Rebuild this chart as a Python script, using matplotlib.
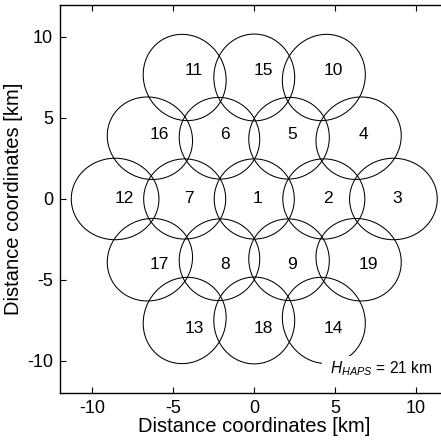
import matplotlib
matplotlib.use('Agg')
import matplotlib.pyplot as plt
import numpy as np
from matplotlib.patches import Ellipse

plt.rcParams['font.family'] = ['Liberation Sans', 'DejaVu Sans']
plt.rcParams['mathtext.fontset'] = 'custom'
plt.rcParams['mathtext.rm'] = 'Liberation Sans'
plt.rcParams['mathtext.it'] = 'Liberation Sans:italic'
plt.rcParams['axes.unicode_minus'] = False

# cell ids and footprint centres [km]
cell_ids = [1, 2, 3, 4, 5, 6, 7, 8, 9, 10,
            11, 12, 13, 14, 15, 16, 17, 18, 19]
cx = [0.0, 4.3, 8.6, 6.45, 2.15, -2.15, -4.3, -2.15, 2.15, 4.3,
      -4.3, -8.6, -4.3, 4.3, 0.0, -6.45, -6.45, 0.0, 6.45]
cy = [0.0, 0.0, 0.0, 3.75, 3.75, 3.75, 0.0, -3.75, -3.75, 7.5,
      7.5, 0.0, -7.5, -7.5, 7.5, 3.75, -3.75, -7.5, -3.75]
# footprint diameters [km]: along the radial direction / across it
d_rad = [4.95, 5.07, 5.42, 5.36, 5.07, 5.07, 5.07, 5.07, 5.07, 5.42,
         5.42, 5.42, 5.42, 5.42, 5.36, 5.36, 5.36, 5.36, 5.36]
d_tan = [4.95, 4.95, 5.03, 5.0, 4.95, 4.95, 4.95, 4.95, 4.95, 5.03,
         5.03, 5.03, 5.03, 5.03, 5.0, 5.0, 5.0, 5.0, 5.0]
# where the cell numbers sit [km]
lx = [0.22, 4.56, 8.85, 6.72, 2.33, -1.80, -4.05, -1.80, 2.33, 4.88,
      -3.71, -8.02, -3.71, 4.88, 0.59, -5.85, -5.85, 0.59, 7.03]
ly = [0.0, 0.0, 0.0, 3.99, 3.99, 3.99, 0.0, -4.03, -4.03, 7.96,
      7.96, 0.0, -7.98, -7.98, 7.96, 3.99, -4.03, -7.98, -4.03]

fig = plt.figure(figsize=(4.41, 4.41), dpi=100)
ax = fig.add_axes([0.1363, 0.108, 0.8805, 0.8816])

for i in range(len(cell_ids)):
    ang = np.degrees(np.arctan2(cy[i], cx[i])) if (cx[i] or cy[i]) else 0.0
    e = Ellipse((cx[i], cy[i]), d_rad[i], d_tan[i], angle=ang,
                facecolor='none', edgecolor='black', linewidth=0.75)
    ax.add_patch(e)
    ax.text(lx[i], ly[i], str(cell_ids[i]), fontsize=12.5,
            ha='center', va='center')

ax.text(4.45, -10.5, r' $H_{HAPS}$ = 21 km', fontsize=11.2, ha='left',
        va='center', zorder=5,
        bbox=dict(facecolor='white', edgecolor='none', pad=3))

ax.set_xlim(-12, 12)
ax.set_ylim(-12, 12)
ax.set_xticks([-10, -5, 0, 5, 10])
ax.set_yticks([-10, -5, 0, 5, 10])
ax.tick_params(direction='in', top=True, right=True, length=4,
               width=0.8, labelsize=13, pad=5)
for s in ax.spines.values():
    s.set_linewidth(1.0)
ax.set_xlabel('Distance coordinates [km]', fontsize=14.5, labelpad=0)
ax.set_ylabel('Distance coordinates [km]', fontsize=14.5, labelpad=3)

fig.savefig('out.png', dpi=100)
